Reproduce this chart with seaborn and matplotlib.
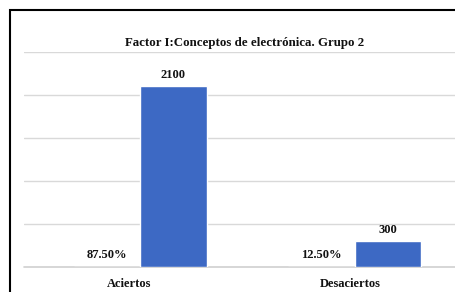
import matplotlib
matplotlib.use("Agg")
import matplotlib.pyplot as plt
import seaborn as sns
import pandas as pd
from matplotlib.patches import Rectangle

categories = ["Aciertos", "Desaciertos"]
counts = [2100, 300]
percents = [0.875, 0.125]
percent_labels = ["87.50%", "12.50%"]
title = "Factor I:Conceptos de electrónica. Grupo 2"

sns.set_theme(style="white")
plt.rcParams['font.family'] = ['Liberation Serif', 'DejaVu Serif']

df = pd.DataFrame({
    "cat": categories * 2,
    "serie": ["Porcentaje"] * 2 + ["Cantidad"] * 2,
    "valor": percents + counts,
})

W, H = 455, 292
fig = plt.figure(figsize=(W / 100, H / 100), dpi=100)
left, right, bottom, top = 24, 455, 267, 52
ax = fig.add_axes([left / W, 1 - bottom / H, (right - left) / W, (bottom - top) / H])

sns.barplot(data=df, x="cat", y="valor", hue="serie", order=categories,
            hue_order=["Porcentaje", "Cantidad"],
            palette=["#3d69c4", "#3d69c4"], width=0.62, gap=0,
            saturation=1, legend=False, ax=ax)

ax.set_ylim(0, 2500)
ax.set_yticks([0, 500, 1000, 1500, 2000, 2500])
ax.yaxis.grid(True, color="#d9d9d9", linewidth=1)
ax.axhline(0, color="#d0d0d0", linewidth=1.2, clip_on=False, zorder=0.5)
ax.set_axisbelow(True)
ax.tick_params(axis="y", left=False, labelleft=False)
ax.tick_params(axis="x", bottom=False, pad=2)
for s in ax.spines.values():
    s.set_visible(False)
ax.set_xlim(-0.542, 1.468)
ax.set_xlabel("")
ax.set_ylabel("")
ax.set_xticks([-0.05, 0.98])
ax.set_xticklabels(categories, fontsize=9, fontweight="bold", color="#111111")

# value labels
cnt_bars = ax.containers[1]
for bar, v in zip(cnt_bars, counts):
    ax.annotate(f"{v}", (bar.get_x() + bar.get_width() / 2, bar.get_height()),
                xytext=(0, 4), textcoords="offset points", ha="center", va="bottom",
                fontsize=9, fontweight="bold", color="#111111")
pct_bars = ax.containers[0]
for bar, lab in zip(pct_bars, percent_labels):
    ax.annotate(lab, (bar.get_x() + bar.get_width() / 2, 0),
                xytext=(0, 4), textcoords="offset points", ha="center", va="bottom",
                fontsize=9, fontweight="bold", color="#111111")

fig.text(245 / W, 1 - 43 / H, title, ha="center", va="center",
         fontsize=9.3, fontweight="bold", color="#111111")

fig.add_artist(Rectangle((10 / W, -0.1), 1.0, (H - 10) / H + 0.1,
                         transform=fig.transFigure, fill=False,
                         edgecolor="black", linewidth=1.5))

fig.savefig("out.png", dpi=100, facecolor="white")
